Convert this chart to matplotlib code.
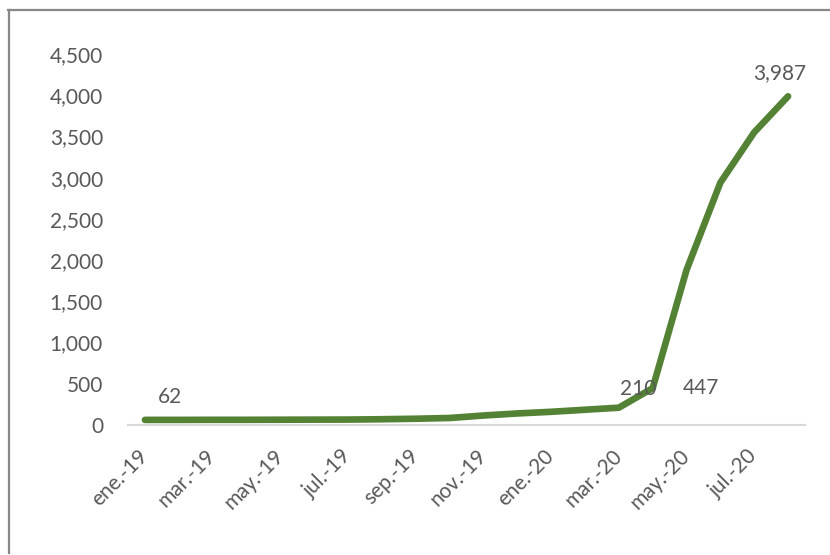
import numpy as np
import matplotlib
matplotlib.use("Agg")
from matplotlib import pyplot as plt
from matplotlib.lines import Line2D
from matplotlib.ticker import FuncFormatter

months = ['ene.-19', 'feb.-19', 'mar.-19', 'abr.-19', 'may.-19', 'jun.-19', 'jul.-19', 'ago.-19',
          'sep.-19', 'oct.-19', 'nov.-19', 'dic.-19', 'ene.-20', 'feb.-20', 'mar.-20', 'abr.-20',
          'may.-20', 'jun.-20', 'jul.-20', 'ago.-20']
values = [62, 62, 63, 63, 64, 65, 66, 70, 76, 85, 115, 140, 160, 185, 210, 447, 1880, 2940, 3550, 3987]

# labelled points: index, text, offset in pixels
labels = [(0, '62', (25, 23)), (14, '210', (19, 19)), (15, '447', (48, 0)), (19, '3,987', (-8, 23))]

plt.rcParams['font.family'] = ['Lato', 'DejaVu Sans']
text_color = '#595959'

fig = plt.figure(figsize=(8.3, 5.55), dpi=100)
ax = fig.add_axes([128/830, 1 - 425/555, (805 - 128)/830, (425 - 54)/555])

x = np.arange(len(months))
ax.plot(x, values, color='#548235', linewidth=4.8, solid_capstyle='round', solid_joinstyle='round')

for i, txt, (dx, dy) in labels:
    ax.annotate(txt, (x[i], values[i]), xytext=(dx, dy), textcoords='offset pixels',
                ha='center', va='center', fontsize=15, color=text_color)

ax.set_xlim(-0.5, len(months) - 0.5)
ax.set_ylim(0, 4500)
ax.set_yticks(np.arange(0, 4501, 500))
ax.yaxis.set_major_formatter(FuncFormatter(lambda v, p: '{:,.0f}'.format(v)))
ax.set_xticks(x[::2])
ax.set_xticklabels(months[::2], rotation=45, ha='right', va='center', rotation_mode='anchor')

ax.tick_params(axis='both', length=0, labelsize=15, labelcolor=text_color)
ax.tick_params(axis='y', pad=18)
ax.tick_params(axis='x', pad=20)

for s in ['top', 'right', 'left']:
    ax.spines[s].set_visible(False)
ax.spines['bottom'].set_color('#d9d9d9')
ax.spines['bottom'].set_linewidth(1.5)

# outer chart border
fig.add_artist(Line2D([8.5/830, 8.5/830], [1 - 553/555, 1 - 10/555], color='#888888', linewidth=1.6))
fig.add_artist(Line2D([8/830, 1], [1 - 10/555, 1 - 10/555], color='#888888', linewidth=1.6))

fig.savefig('out.png', dpi=100)
